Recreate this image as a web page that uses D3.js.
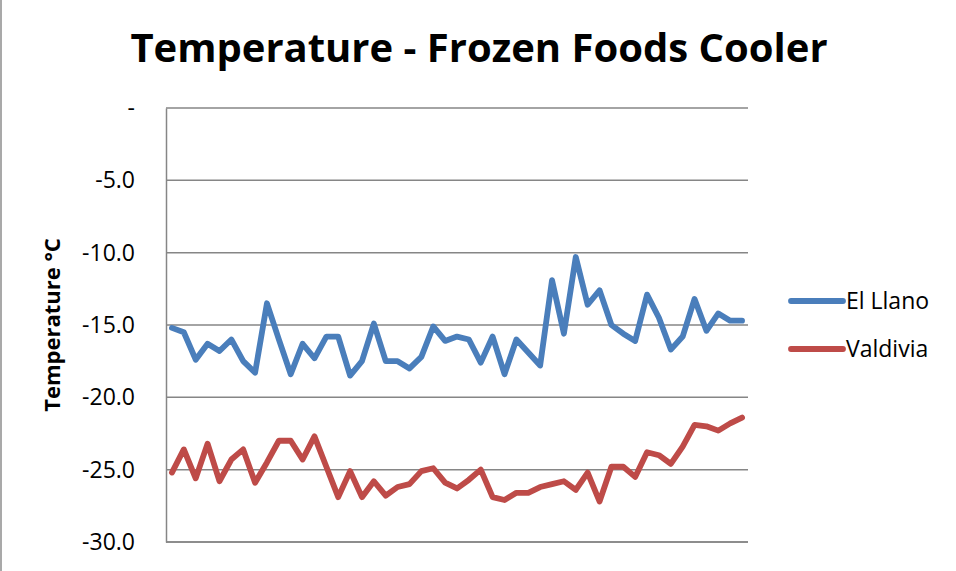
<!DOCTYPE html>
<html>
<head>
<meta charset="utf-8">
<script src="https://cdn.jsdelivr.net/npm/d3@7"></script>
<style>
  html, body { margin: 0; padding: 0; background: #fff; }
  svg { display: block; font-family: "Open Sans", sans-serif; }
</style>
</head>
<body>
<svg id="chart" width="956" height="571"></svg>
<script>
// Daily readings, one per sample, in °C
const elLlano = [
  -15.2, -15.5, -17.4, -16.3, -16.8, -16.0, -17.5, -18.3, -13.5, -16.0,
  -18.4, -16.3, -17.3, -15.8, -15.8, -18.5, -17.5, -14.9, -17.5, -17.5,
  -18.0, -17.2, -15.1, -16.1, -15.8, -16.0, -17.6, -15.8, -18.4, -16.0,
  -16.9, -17.8, -11.9, -15.6, -10.3, -13.6, -12.6, -15.0, -15.6, -16.1,
  -12.9, -14.5, -16.7, -15.8, -13.2, -15.4, -14.2, -14.7, -14.7
];
const valdivia = [
  -25.2, -23.6, -25.6, -23.2, -25.8, -24.3, -23.6, -25.9, -24.5, -23.0,
  -23.0, -24.3, -22.7, -24.8, -26.9, -25.1, -26.9, -25.8, -26.8, -26.2,
  -26.0, -25.1, -24.9, -25.9, -26.3, -25.7, -25.0, -26.9, -27.1, -26.6,
  -26.6, -26.2, -26.0, -25.8, -26.4, -25.2, -27.2, -24.8, -24.8, -25.5,
  -23.8, -24.0, -24.6, -23.4, -21.9, -22.0, -22.3, -21.8, -21.4
];
const seriesNames = ["El Llano", "Valdivia"];
const seriesColors = ["#4A7EBB", "#BE4B48"];
const yTicks = [0, -5, -10, -15, -20, -25, -30];
const yTickLabels = ["-", "-5.0", "-10.0", "-15.0", "-20.0", "-25.0", "-30.0"];
const titleText = "Temperature - Frozen Foods Cooler";
const yAxisTitle = "Temperature °C";

const svg = d3.select("#chart");
const plot = { left: 166, right: 748, top: 108, bottom: 542 };
const font = "'Open Sans', sans-serif";

// outer chart frame edge
svg.append("line")
  .attr("x1", 1).attr("x2", 1).attr("y1", 0).attr("y2", 571)
  .attr("stroke", "#8c8c8c").attr("stroke-width", 1.5);

const x = d3.scalePoint()
  .domain(d3.range(elLlano.length))
  .range([plot.left, plot.right])
  .padding(0.5);

const y = d3.scaleLinear()
  .domain([-30, 0])
  .range([plot.bottom, plot.top]);

// horizontal gridlines
svg.append("g")
  .selectAll("line")
  .data(yTicks)
  .join("line")
  .attr("x1", plot.left).attr("x2", plot.right)
  .attr("y1", d => y(d)).attr("y2", d => y(d))
  .attr("stroke", "#868686").attr("stroke-width", 1.5);

// value axis
const yAxis = d3.axisLeft(y)
  .tickValues(yTicks)
  .tickFormat((d, i) => yTickLabels[i])
  .tickSize(0)
  .tickPadding(31);
const yg = svg.append("g")
  .attr("transform", `translate(${plot.left},0)`)
  .call(yAxis);
yg.select(".domain").attr("stroke", "#868686").attr("stroke-width", 1.5);
yg.selectAll("text")
  .attr("font-family", font)
  .attr("font-size", 23)
  .attr("fill", "#000");

// category axis line
svg.append("line")
  .attr("x1", plot.left).attr("x2", plot.right)
  .attr("y1", plot.bottom).attr("y2", plot.bottom)
  .attr("stroke", "#868686").attr("stroke-width", 1.5);

// series lines
const line = d3.line()
  .x((d, i) => x(i))
  .y(d => y(d));

[elLlano, valdivia].forEach((vals, k) => {
  svg.append("path")
    .datum(vals)
    .attr("d", line)
    .attr("fill", "none")
    .attr("stroke", seriesColors[k])
    .attr("stroke-width", 5.8)
    .attr("stroke-linejoin", "round")
    .attr("stroke-linecap", "round");
});

// title
svg.append("text")
  .attr("x", 479).attr("y", 62)
  .attr("text-anchor", "middle")
  .attr("font-family", font)
  .attr("font-weight", "bold")
  .attr("font-size", 40)
  .attr("fill", "#000")
  .text(titleText);

// value axis title
svg.append("text")
  .attr("transform", "translate(60,325) rotate(-90)")
  .attr("text-anchor", "middle")
  .attr("font-family", font)
  .attr("font-weight", "bold")
  .attr("font-size", 22)
  .attr("fill", "#000")
  .text(yAxisTitle);

// legend
const legend = svg.append("g");
const legendY = [301, 349];
seriesNames.forEach((name, k) => {
  legend.append("line")
    .attr("x1", 791).attr("x2", 843)
    .attr("y1", legendY[k]).attr("y2", legendY[k])
    .attr("stroke", seriesColors[k])
    .attr("stroke-width", 5.8)
    .attr("stroke-linecap", "round");
  legend.append("text")
    .attr("x", 846).attr("y", legendY[k] + 8)
    .attr("font-family", font)
    .attr("font-size", 23)
    .attr("fill", "#000")
    .text(name);
});
</script>
</body>
</html>
